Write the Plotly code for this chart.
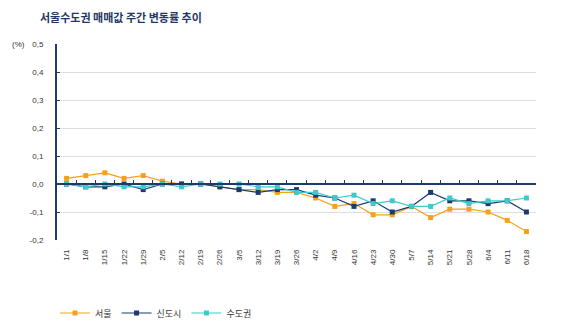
import plotly.graph_objects as go

dates = ["1/1","1/8","1/15","1/22","1/29","2/5","2/12","2/19","2/26","3/5","3/12","3/19","3/26",
         "4/2","4/9","4/16","4/23","4/30","5/7","5/14","5/21","5/28","6/4","6/11","6/18"]
seoul = [0.02,0.03,0.04,0.02,0.03,0.01,0.0,0.0,-0.01,-0.02,-0.02,-0.03,-0.03,
         -0.05,-0.08,-0.07,-0.11,-0.11,-0.08,-0.12,-0.09,-0.09,-0.10,-0.13,-0.17]
newtown = [0.0,-0.01,-0.01,0.0,-0.02,0.0,0.0,0.0,-0.01,-0.02,-0.03,-0.02,-0.02,
           -0.04,-0.05,-0.08,-0.06,-0.10,-0.08,-0.03,-0.06,-0.06,-0.07,-0.06,-0.10]
capital = [0.0,-0.01,0.0,-0.01,-0.01,0.0,-0.01,0.0,0.0,0.0,-0.01,-0.01,-0.03,
           -0.03,-0.05,-0.04,-0.07,-0.06,-0.08,-0.08,-0.05,-0.07,-0.06,-0.06,-0.05]
ytickvals = [0.5,0.4,0.3,0.2,0.1,0.0,-0.1,-0.2]
yticktext = ["0,5","0,4","0,3","0,2","0,1","0,0","-0,1","-0,2"]

series = [("서울", seoul, "#F7A01C", "x"), ("신도시", newtown, "#1B3B6F", "x"),
          ("수도권", capital, "#3CCACA", "x2")]

fig = go.Figure()
for name, vals, col, ax in series:
    fig.add_trace(go.Scatter(
        x=dates, y=vals, name=name, mode="lines+markers",
        line=dict(color=col, width=1.2),
        marker=dict(symbol="square", size=5, color=col),
        xaxis=ax,
    ))

zero_pos = (0 - (-0.2)) / (0.5 - (-0.2))
navy = "#1B3B6F"
fig.update_layout(
    width=580, height=329,
    margin=dict(l=57, r=44, t=44, b=89, autoexpand=False),
    paper_bgcolor="white", plot_bgcolor="white",
    font=dict(family="Liberation Sans, Arial, sans-serif", size=8, color="#333333"),
    title=dict(text="서울수도권 매매값 주간 변동률 추이", x=40/580, xanchor="left",
               y=1-18/329, yanchor="middle",
               font=dict(family="Noto Sans CJK KR", size=11, color="#1F3864", weight="bold")),
    showlegend=True,
    legend=dict(orientation="h", x=55/580, xref="container", xanchor="left",
                y=1-313/329, yref="container", yanchor="middle",
                font=dict(family="Noto Sans CJK KR", size=9, color="#333333"),
                itemwidth=30, traceorder="normal"),
    xaxis=dict(type="category", categoryarray=dates, categoryorder="array",
               range=[-0.5, 24.5], showline=False, showgrid=False, ticks="",
               tickangle=-90, tickfont=dict(size=8, color="#333333"), ticklabelstandoff=7),
    xaxis2=dict(type="category", categoryarray=dates, categoryorder="array",
                range=[-0.5, 24.5], overlaying="x", anchor="free", position=zero_pos,
                showline=True, linecolor=navy, linewidth=2, showgrid=False,
                ticks="inside", tickson="boundaries", ticklen=3, tickcolor=navy, tickwidth=1,
                showticklabels=False),
    yaxis=dict(range=[-0.2, 0.5], tickvals=ytickvals, ticktext=yticktext,
               showline=True, linecolor=navy, linewidth=2, ticks="inside", ticklen=3,
               tickcolor=navy, showgrid=True, gridcolor="#dedede", gridwidth=1,
               zeroline=False, tickfont=dict(size=8, color="#333333"), ticklabelstandoff=10),
    annotations=[dict(text="(%)", xref="paper", yref="paper", x=-47/479, y=1.0,
                      xanchor="left", yanchor="middle", showarrow=False,
                      font=dict(size=8, color="#333333"))],
)

fig.write_html("out.html")
